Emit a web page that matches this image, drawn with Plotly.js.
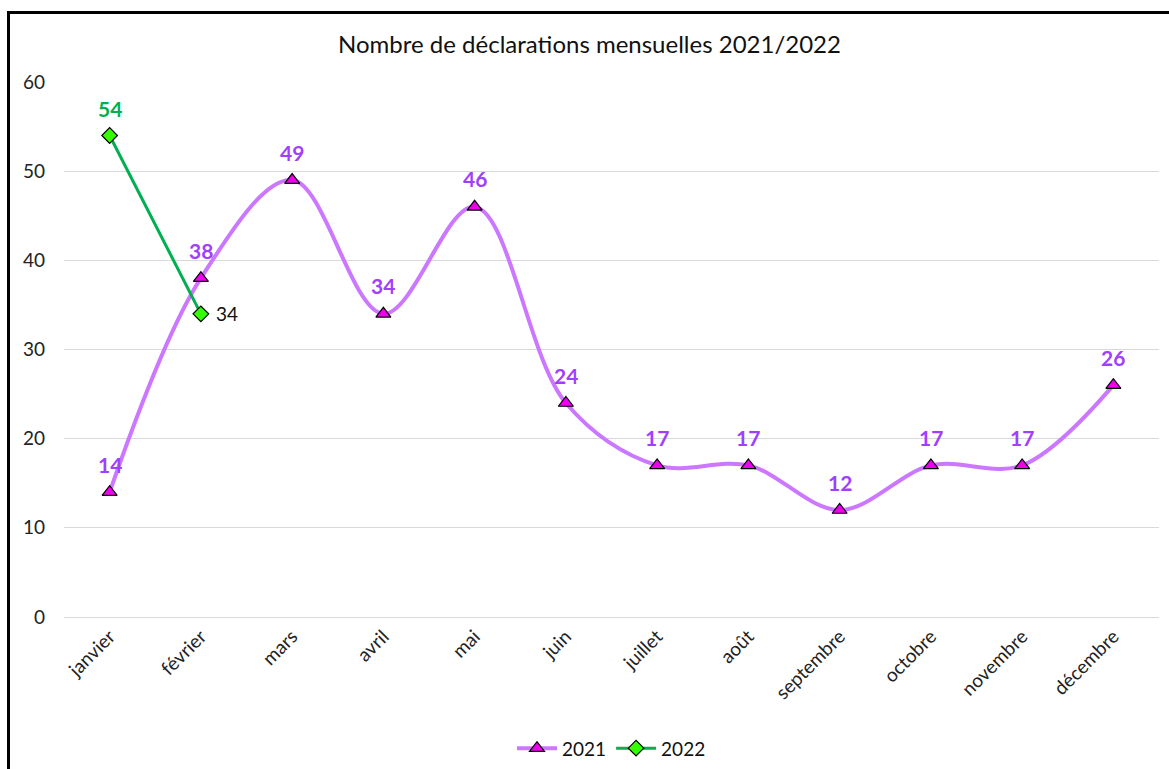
<!DOCTYPE html>
<html>
<head>
<meta charset="utf-8">
<script src="https://cdn.plot.ly/plotly-3.0.1.min.js"></script>
<style>
html,body{margin:0;padding:0;background:#fff;overflow:hidden;}
#frame{position:absolute;left:7px;top:11px;width:1170px;height:770px;border-left:3px solid #000;border-top:3px solid #000;box-sizing:border-box;}
#chart{position:absolute;left:10px;top:14px;width:1159px;height:755px;}
</style>
</head>
<body>
<div id="frame"></div>
<div id="chart"></div>
<script>
const months = ["janvier","février","mars","avril","mai","juin","juillet","août","septembre","octobre","novembre","décembre"];
const values2021 = [14,38,49,34,46,24,17,17,12,17,17,26];
const months2022 = ["janvier","février"];
const values2022 = [54,34];
const yTicks = [0,10,20,30,40,50,60];

const font = "Lato, 'Open Sans', sans-serif";

const t2021 = {
  x: months, y: values2021, name: "2021", type: "scatter",
  mode: "lines+markers",
  line: {color: "#CC77FF", width: 4, shape: "spline", smoothing: 1},
  marker: {symbol: "triangle-up", size: 13, color: "#EE00EE", line: {color: "#000", width: 1.2}},
  cliponaxis: false
};
const t2022 = {
  x: months2022, y: values2022, name: "2022", type: "scatter",
  mode: "lines+markers",
  line: {color: "#00B050", width: 3},
  marker: {symbol: "diamond", size: 12, color: "#33FF00", line: {color: "#000", width: 1.2}},
  cliponaxis: false
};

const annotations = [];
months.forEach((m, i) => annotations.push({
  x: m, y: values2021[i], xref: "x", yref: "y", text: String(values2021[i]),
  showarrow: false, yshift: 28, xanchor: "center", yanchor: "middle",
  font: {family: font, size: 21, color: "#A040FF", weight: "bold"}
}));
annotations.push({
  x: months2022[0], y: values2022[0], xref: "x", yref: "y", text: String(values2022[0]),
  showarrow: false, yshift: 27, xanchor: "center", yanchor: "middle",
  font: {family: font, size: 21, color: "#00B050", weight: "bold"}
});
annotations.push({
  x: months2022[1], y: values2022[1], xref: "x", yref: "y", text: String(values2022[1]),
  showarrow: false, xshift: 13, xanchor: "left", yanchor: "middle",
  font: {family: font, size: 19, color: "#111"}
});

const layout = {
  width: 1159, height: 755,
  margin: {l: 54, r: 10, t: 68, b: 152, autoexpand: false},
  paper_bgcolor: "rgba(0,0,0,0)", plot_bgcolor: "#fff",
  font: {family: font, size: 19, color: "#222"},
  title: {text: "Nombre de déclarations mensuelles 2021/2022", x: 0.5, xanchor: "center", y: 0.96, yanchor: "middle", font: {family: font, size: 24, color: "#111"}},
  xaxis: {type: "category", range: [-0.5, 11.5], tickangle: -45, showgrid: false, showline: true, linecolor: "#d9d9d9", linewidth: 1, ticks: "", tickfont: {family: font, size: 19, color: "#222"}, fixedrange: true, zeroline: false, automargin: false},
  yaxis: {range: [0, 60], tickvals: yTicks, showgrid: true, gridcolor: "#d9d9d9", gridwidth: 1, zeroline: false, showline: false, ticks: "", ticklabelstandoff: 18, tickfont: {family: font, size: 19, color: "#222"}, fixedrange: true, automargin: false},
  showlegend: true,
  legend: {orientation: "h", x: 0.5, xanchor: "center", y: -0.21, yanchor: "top", font: {family: font, size: 19, color: "#111"}, itemwidth: 40, tracegroupgap: 0},
  annotations: annotations
};

Plotly.newPlot("chart", [t2021, t2022], layout, {displayModeBar: false, staticPlot: true});
</script>
</body>
</html>
